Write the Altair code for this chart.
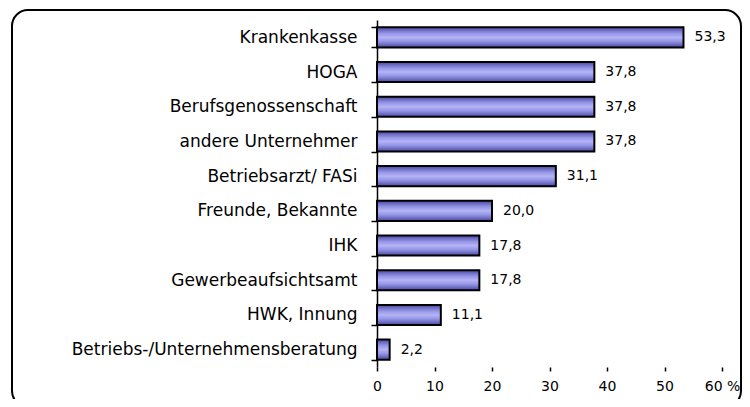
import altair as alt
import pandas as pd

categories = [
    "Krankenkasse",
    "HOGA",
    "Berufsgenossenschaft",
    "andere Unternehmer",
    "Betriebsarzt/ FASi",
    "Freunde, Bekannte",
    "IHK",
    "Gewerbeaufsichtsamt",
    "HWK, Innung",
    "Betriebs-/Unternehmensberatung",
]
values = [53.3, 37.8, 37.8, 37.8, 31.1, 20.0, 17.8, 17.8, 11.1, 2.2]
x_ticks = [0, 10, 20, 30, 40, 50, 60]

df = pd.DataFrame({"cat": categories, "val": values})

FONT = "DejaVu Sans"

grad = alt.LinearGradient(
    gradient="linear",
    x1=0, x2=0, y1=0, y2=1,
    stops=[
        alt.GradientStop(color="#4848a4", offset=0),
        alt.GradientStop(color="#9494e6", offset=0.3),
        alt.GradientStop(color="#b4b4f6", offset=0.5),
        alt.GradientStop(color="#9494e6", offset=0.7),
        alt.GradientStop(color="#4848a0", offset=1),
    ],
)

y_enc = alt.Y(
    "cat:N",
    sort=categories,
    scale=alt.Scale(paddingInner=0.42, paddingOuter=0.21),
    axis=alt.Axis(
        title=None,
        domainColor="black",
        domainWidth=1.5,
        tickColor="black",
        tickWidth=1.5,
        tickSize=6,
        tickBand="extent",
        labelFont=FONT,
        labelFontSize=17,
        labelColor="black",
        labelPadding=14,
        labelLimit=400,
        grid=False,
    ),
)

x_enc = alt.X(
    "val:Q",
    scale=alt.Scale(domain=[0, 60], nice=False),
    axis=alt.Axis(
        values=x_ticks,
        domain=False,
        tickColor="black",
        tickWidth=1.5,
        tickSize=4,
        labelFont=FONT,
        labelFontSize=14,
        labelColor="black",
        labelPadding=8,
        labelFlush=False,
        labelExpr="datum.value == 60 ? '60 %' : datum.label",
        grid=False,
        title=None,
    ),
)

bars = alt.Chart(df).mark_bar(
    fill=grad, stroke="black", strokeWidth=2
).encode(x=x_enc, y=y_enc)

labels = alt.Chart(df).transform_calculate(
    lab="replace(format(datum.val, '.1f'), '.', ',')"
).mark_text(
    align="left", baseline="middle", dx=11, font=FONT, fontSize=14, color="black"
).encode(
    x=alt.X("val:Q"),
    y=alt.Y("cat:N", sort=categories),
    text="lab:N",
)

border = alt.Chart(alt.Data(values=[{}])).mark_rect(
    filled=False, stroke="black", strokeWidth=2, cornerRadius=16
).encode(
    x=alt.value(-365), x2=alt.value(364), y=alt.value(-10), y2=alt.value(387)
)

chart = alt.layer(border, bars, labels).properties(
    width=345,
    height=347,
    autosize=alt.AutoSizeParams(type="none"),
    padding={"left": 369, "top": 12, "right": 20, "bottom": 32},
    background="white",
).configure_view(stroke=None)

chart.save("out.html", embed_options={"renderer": "svg", "actions": False})
